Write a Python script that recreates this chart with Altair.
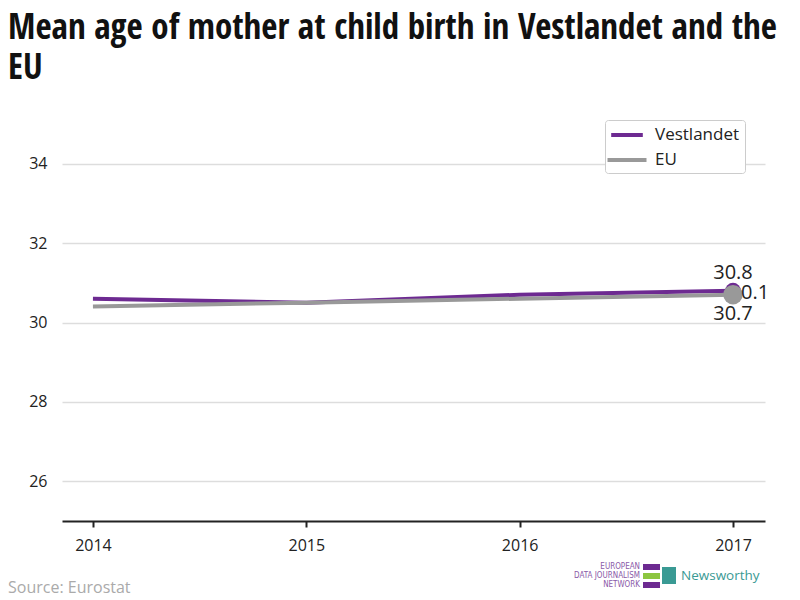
import altair as alt
import pandas as pd

years = [2014, 2015, 2016, 2017]
vestlandet = [30.6, 30.5, 30.7, 30.8]
eu = [30.4, 30.5, 30.6, 30.7]
series_names = ["Vestlandet", "EU"]
series_colors = ["#6d2a91", "#999999"]
y_ticks = [26, 28, 30, 32, 34]
title_lines = ["Mean age of mother at child birth in Vestlandet and the", "EU"]
source_text = "Source: Eurostat"

COND = "Open Sans Condensed, Liberation Sans Narrow, DejaVu Sans Condensed, sans-serif"
SANS = "Open Sans, sans-serif"

rows = []
for y, v in zip(years, vestlandet):
    rows.append({"year": y, "value": v, "series": "Vestlandet"})
for y, v in zip(years, eu):
    rows.append({"year": y, "value": v, "series": "EU"})
df = pd.DataFrame(rows)

last = pd.DataFrame({
    "year": [years[-1], years[-1]],
    "value": [vestlandet[-1], eu[-1]],
    "series": ["Vestlandet", "EU"],
    "label": [f"{vestlandet[-1]:.1f}", f"{eu[-1]:.1f}"],
})
diff = pd.DataFrame({
    "year": [years[-1]],
    "value": [(vestlandet[-1] + eu[-1]) / 2],
    "label": [f"{vestlandet[-1] - eu[-1]:.1f}"],
})

xs = alt.Scale(domain=[2013.855, 2017.15], nice=False, zero=False)
ys = alt.Scale(domain=[25, 35], nice=False, zero=False)
cs = alt.Scale(domain=series_names, range=series_colors)

x_enc = alt.X("year:Q", scale=xs, axis=alt.Axis(
    values=years, format="d", title=None, grid=False, domainColor="#222",
    domainWidth=2, tickColor="#222", tickWidth=2, tickSize=6, labelFont=SANS,
    labelFontSize=16, labelColor="#222", labelPadding=10))
y_enc = alt.Y("value:Q", scale=ys, axis=alt.Axis(
    values=y_ticks, title=None, domain=False, ticks=False, gridColor="#dddddd",
    gridWidth=1.5, labelFont=SANS, labelFontSize=16, labelColor="#222",
    labelPadding=15))

lines = alt.Chart(df).mark_line(strokeWidth=4).encode(
    x=x_enc, y=y_enc,
    color=alt.Color("series:N", scale=cs, sort=series_names, legend=alt.Legend(
        title=None, orient="none", legendX=543, legendY=-4, symbolType="M-2,0H2",
        symbolStrokeWidth=4, symbolSize=400, symbolOffset=5, labelFont=SANS,
        labelFontSize=17, labelColor="#222", strokeColor="#cccccc", cornerRadius=3,
        padding=5, rowPadding=5, labelOffset=16, fillColor="white")),
    order=alt.Order("series:N", sort="ascending"),
)

dots = alt.Chart(last).mark_circle(opacity=1).encode(
    x=alt.X("year:Q", scale=xs), y=alt.Y("value:Q", scale=ys),
    color=alt.Color("series:N", scale=cs, legend=None),
    size=alt.Size("series:N", scale=alt.Scale(domain=series_names, range=[250, 380]), legend=None),
    order=alt.Order("series:N", sort="descending"),
)

top_lbl = alt.Chart(last[last.series == "Vestlandet"]).mark_text(
    font=SANS, fontSize=20, color="#222", dy=-18).encode(
    x=alt.X("year:Q", scale=xs), y=alt.Y("value:Q", scale=ys), text="label:N")
bot_lbl = alt.Chart(last[last.series == "EU"]).mark_text(
    font=SANS, fontSize=20, color="#222", dy=19).encode(
    x=alt.X("year:Q", scale=xs), y=alt.Y("value:Q", scale=ys), text="label:N")
diff_lbl = alt.Chart(diff).mark_text(
    font=SANS, fontSize=20, color="#222", align="left", dx=8).encode(
    x=alt.X("year:Q", scale=xs), y=alt.Y("value:Q", scale=ys), text="label:N")

source = alt.Chart(pd.DataFrame({"t": [source_text]})).mark_text(
    font=SANS, fontSize=16, color="#aaaaaa", align="left", baseline="middle").encode(
    x=alt.value(-54), y=alt.value(464), text="t:N")

news = alt.Chart(pd.DataFrame({"t": ["Newsworthy"]})).mark_text(
    font=SANS, fontSize=13.5, color="#3a9a94", align="left", baseline="middle").encode(
    x=alt.value(619), y=alt.value(452), text="t:N")
news_icon = alt.Chart(pd.DataFrame({"a": [0]})).mark_rect(color="#3a9a94").encode(
    x=alt.value(600), x2=alt.value(614), y=alt.value(443), y2=alt.value(460))
edjn = alt.Chart(pd.DataFrame({"t": ["EUROPEAN", "DATA JOURNALISM", "NETWORK"],
                               "yy": [443, 452, 461]})).mark_text(
    font="Liberation Sans Narrow, DejaVu Sans Condensed, sans-serif", fontSize=8,
    color="#8a5aa8", align="right", baseline="middle").encode(
    x=alt.value(578), y=alt.Y("yy:Q", scale=None), text="t:N")
edjn_bars = alt.Chart(pd.DataFrame({"yy": [440, 449, 458], "y2": [446, 455, 464],
                                    "c": ["#6d2a91", "#8cc63f", "#6d2a91"]})).mark_rect().encode(
    x=alt.value(581), x2=alt.value(598), y=alt.Y("yy:Q", scale=None), y2="y2:Q",
    color=alt.Color("c:N", scale=None))

chart = alt.layer(lines, dots, top_lbl, bot_lbl, diff_lbl, source, news_icon, news, edjn, edjn_bars).properties(
    width=703, height=397,
    autosize=alt.AutoSizeParams(type="none"),
    padding={"left": 54, "top": 116, "right": 27, "bottom": 76},
    title=alt.TitleParams(text=title_lines, anchor="start", frame="group", dx=-54,
                          font=COND, fontSize=35, fontWeight="bold", color="#111",
                          lineHeight=40, offset=34),
).configure(background="white", view=alt.ViewConfig(stroke=None))

chart.save("out.html", embed_options={"renderer": "svg", "actions": False})
